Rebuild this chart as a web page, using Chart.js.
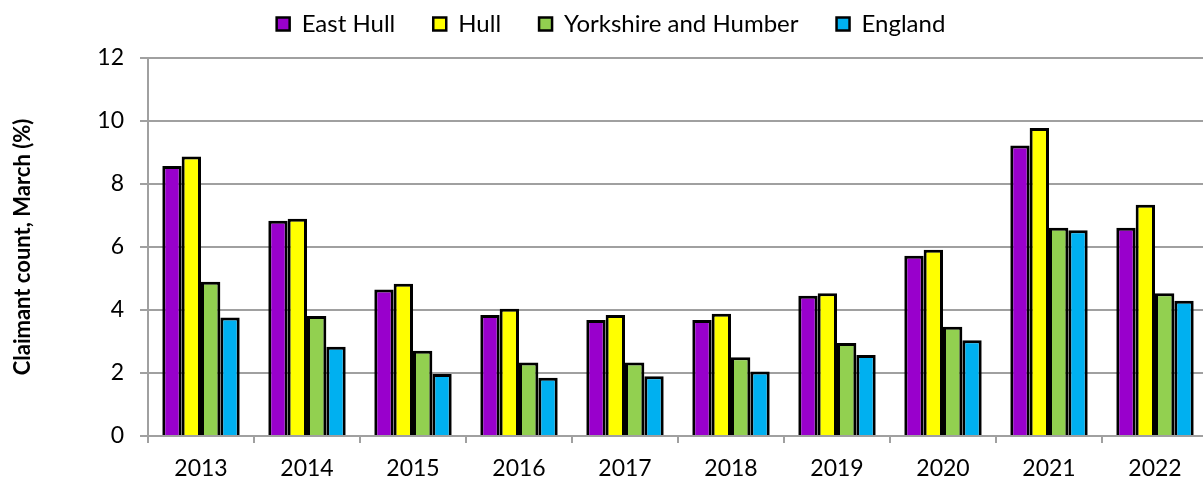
<!DOCTYPE html>
<html><head><meta charset="utf-8">
<script src="https://cdn.jsdelivr.net/npm/chart.js@4"></script>
<style>html,body{margin:0;padding:0;overflow:hidden;background:#fff}#wrap{width:1226px;height:481px;position:relative}</style>
</head><body><div id="wrap"><canvas id="c"></canvas></div>
<script>
const years = ["2013","2014","2015","2016","2017","2018","2019","2020","2021","2022"];
const eastHull = [8.57,6.83,4.65,3.84,3.68,3.68,4.45,5.72,9.22,6.61];
const hull = [8.87,6.90,4.83,4.04,3.84,3.88,4.53,5.91,9.78,7.34];
const yorkshire = [4.90,3.81,2.71,2.33,2.33,2.50,2.95,3.47,6.61,4.53];
const england = [3.76,2.83,1.97,1.85,1.90,2.05,2.57,3.04,6.53,4.29];
const seriesNames = ["East Hull","Hull","Yorkshire and Humber","England"];
const seriesColors = ["#9900CC","#FFFF00","#92D050","#00B0F0"];
const yTicks = [0,2,4,6,8,10,12];

// legend: fixed height so plot area starts at the reference position
try {
  const L = Chart.registry.plugins.get('legend')._element;
  const origFit = L.prototype.fit;
  L.prototype.fit = function () { origFit.call(this); if (this.isHorizontal()) this.height = 84; };
} catch (e) {}

const font = "Lato, 'Open Sans', sans-serif";
const gridCol = "#a0a0a0";
const mk = (i, d) => ({label: seriesNames[i], data: d, backgroundColor: seriesColors[i], borderColor: "#000", borderWidth: 3, borderSkipped: "bottom", categoryPercentage: 0.73, barPercentage: 1.0});

new Chart(document.getElementById("c"), {
  type: "bar",
  data: {labels: years, datasets: [mk(0,eastHull), mk(1,hull), mk(2,yorkshire), mk(3,england)]},
  options: {
    responsive: true, maintainAspectRatio: false, animation: false,
    layout: {padding: {top: -26, right: 18, left: 14, bottom: 0}},
    plugins: {
      tooltip: {enabled: false},
      legend: {position: "top", labels: {font: {family: font, size: 24}, color: "#000", boxWidth: 13, boxHeight: 13, padding: 38,
        generateLabels: ch => Chart.defaults.plugins.legend.labels.generateLabels(ch).map(l => Object.assign(l, {lineWidth: 2.5}))}}
    },
    scales: {
      x: {
        grid: {offset: true, drawOnChartArea: false, color: gridCol, lineWidth: 2, tickLength: 7},
        border: {color: gridCol, width: 2},
        ticks: {font: {family: font, size: 23}, color: "#000", padding: 12},
        afterFit: s => { s.height = 45; }
      },
      y: {
        min: 0, max: 12,
        afterBuildTicks: s => { s.ticks = yTicks.map(v => ({value: v})); },
        grid: {color: gridCol, lineWidth: 2, tickLength: 8},
        border: {color: gridCol, width: 2},
        ticks: {font: {family: font, size: 23}, color: "#000", padding: 16},
        title: {display: true, text: "Claimant count, March (%)", font: {family: font, size: 22, weight: "bold", lineHeight: 1}, color: "#000", padding: {top: -2, bottom: 0}},
        afterFit: s => { s.width = 134; }
      }
    }
  }
});
</script></body></html>
